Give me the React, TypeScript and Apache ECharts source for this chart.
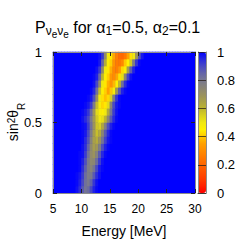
import React, { useEffect, useRef } from "react";
import * as echarts from "echarts";

// Axis ticks
const energyTicks = [5, 10, 15, 20, 25, 30];
const mixingTicks = [0, 0.5, 1];
const colorTicks = [0, 0.2, 0.4, 0.6, 0.8, 1];

// Grid of the map: 0.5 MeV bins from 5 to 30 MeV, 0.05 bins of sin^2(theta_R) from 0 to 1
const energyBinCount = 50;
const mixingBinCount = 20;

// Values. Each row (sin^2 bin, bottom to top) lists the
// survival probability of the bins where it differs from the blue background (1),
// starting at energy bin rowStart[j].
const rowStart = [8, 8, 8, 9, 9, 9, 10, 10, 10, 10, 10, 10, 11, 12, 13, 14, 14, 15, 16, 16];
const rowValues = [
  [0.98, 0.94, 0.87, 0.81, 0.83, 0.9, 0.96, 0.99],
  [0.99, 0.96, 0.9, 0.82, 0.79, 0.85, 0.93, 0.98],
  [0.99, 0.97, 0.92, 0.83, 0.78, 0.79, 0.87, 0.94, 0.98],
  [0.99, 0.94, 0.86, 0.78, 0.75, 0.81, 0.9, 0.97, 0.99],
  [0.99, 0.96, 0.89, 0.79, 0.73, 0.74, 0.83, 0.92, 0.98],
  [0.99, 0.98, 0.92, 0.82, 0.72, 0.69, 0.76, 0.87, 0.95, 0.99],
  [0.98, 0.94, 0.85, 0.73, 0.66, 0.68, 0.78, 0.89, 0.96, 0.99],
  [0.99, 0.95, 0.88, 0.76, 0.65, 0.62, 0.69, 0.81, 0.91, 0.97, 0.99],
  [0.99, 0.97, 0.9, 0.79, 0.66, 0.58, 0.62, 0.74, 0.87, 0.95, 0.99],
  [0.99, 0.98, 0.92, 0.82, 0.69, 0.57, 0.55, 0.63, 0.77, 0.89, 0.96, 0.99],
  [0.98, 0.95, 0.9, 0.8, 0.67, 0.56, 0.5, 0.52, 0.6, 0.74, 0.87, 0.95, 0.99],
  [0.99, 0.97, 0.93, 0.84, 0.68, 0.53, 0.47, 0.46, 0.5, 0.63, 0.8, 0.92, 0.98],
  [0.99, 0.97, 0.92, 0.78, 0.58, 0.47, 0.42, 0.44, 0.53, 0.74, 0.9, 0.97, 0.99],
  [0.99, 0.97, 0.89, 0.7, 0.5, 0.43, 0.39, 0.42, 0.55, 0.78, 0.93, 0.99],
  [0.99, 0.95, 0.82, 0.58, 0.46, 0.41, 0.35, 0.4, 0.48, 0.68, 0.87, 0.96, 0.99],
  [0.98, 0.9, 0.72, 0.5, 0.44, 0.37, 0.32, 0.38, 0.46, 0.6, 0.82, 0.94, 0.99],
  [0.99, 0.96, 0.84, 0.6, 0.46, 0.41, 0.33, 0.3, 0.36, 0.43, 0.52, 0.74, 0.91, 0.98],
  [0.98, 0.92, 0.73, 0.5, 0.44, 0.37, 0.29, 0.27, 0.33, 0.42, 0.47, 0.66, 0.86, 0.96],
  [0.97, 0.85, 0.62, 0.46, 0.41, 0.32, 0.26, 0.25, 0.29, 0.4, 0.45, 0.56, 0.78, 0.93, 0.99],
  [0.98, 0.92, 0.72, 0.5, 0.44, 0.36, 0.27, 0.22, 0.21, 0.25, 0.35, 0.43, 0.5, 0.68, 0.88, 0.97],
];

// Colour palette, evenly spaced from 0 to 1
const palette = [
  "#ff0000", "#ff2200", "#ff3c00", "#ff5000", "#ff6400", "#ff7800", "#ff8c00",
  "#ffa000", "#ffc800", "#fff000", "#f0e810", "#d8d020", "#bcb430", "#a8a048",
  "#989060", "#888478", "#787890", "#6464a8", "#4848c4", "#2828e0", "#0000ff",
];

const FONT = "Liberation Sans, Arial, Helvetica, sans-serif";

export default function App() {
  const ref = useRef<HTMLDivElement>(null);
  useEffect(() => {
    const chart = echarts.init(ref.current!, null, { renderer: "svg" });
    const data: number[][] = [];
    for (let j = 0; j < mixingBinCount; j++) {
      for (let i = 0; i < energyBinCount; i++) {
        const k = i - rowStart[j];
        const v = k >= 0 && k < rowValues[j].length ? rowValues[j][k] : 1;
        data.push([i, j, v]);
      }
    }
    const xCats = Array.from({ length: energyBinCount }, (_, i) => String(i));
    const yCats = Array.from({ length: mixingBinCount }, (_, i) => String(i));
    const frame = { show: true, lineStyle: { color: "#8c8c8c", width: 1 } };
    const tick = (len: number) => ({ show: true, inside: true, length: len, lineStyle: { color: "#222", width: 1 } });
    const label = { color: "#000", fontSize: 12, fontFamily: FONT };
    const tt = (fontSize: number, height: number) => ({
      fontSize, fontFamily: FONT, fontWeight: "normal", color: "#000",
      lineHeight: 30, height, verticalAlign: "top",
    });

    chart.setOption({
      animation: false,
      backgroundColor: "#fff",
      title: {
        left: 35,
        top: 19,
        padding: 0,
        text: "{a|P}{s|ν}{e|e}{s|ν}{e|e}{a| for α}{s|1}{a|=0.5, α}{s|2}{a|=0.1}",
        textStyle: {
          fontWeight: "normal",
          rich: { a: tt(16, 16), s: tt(12, 24), e: tt(10, 30) },
        },
      },
      graphic: [
        {
          type: "text",
          x: 16,
          y: 122,
          rotation: Math.PI / 2,
          style: {
            text: "{a|sin}{p|2}{a|θ}{b|R}",
            align: "center",
            verticalAlign: "middle",
            rich: {
              a: { fontSize: 14, fontFamily: FONT, fill: "#000", lineHeight: 20, verticalAlign: "top" },
              p: { fontSize: 10, fontFamily: FONT, fill: "#000", lineHeight: 10, verticalAlign: "top" },
              b: { fontSize: 10, fontFamily: FONT, fill: "#000", lineHeight: 10, verticalAlign: "bottom" },
            },
          },
        },
      ],
      grid: [
        { left: 53, top: 52, width: 142, height: 141, show: true, backgroundColor: "#0000ff", borderWidth: 0, containLabel: false, outerBoundsMode: "none" },
        { left: 198, top: 52, width: 8, height: 141, containLabel: false, outerBoundsMode: "none" },
      ],
      xAxis: [
        { type: "category", gridIndex: 0, data: xCats, show: false },
        {
          type: "value", gridIndex: 0, position: "bottom",
          min: energyTicks[0], max: energyTicks[energyTicks.length - 1], interval: energyTicks[1] - energyTicks[0],
          axisLine: frame, axisTick: tick(4), splitLine: { show: false },
          axisLabel: { ...label, margin: 10 },
          name: "Energy [MeV]", nameLocation: "middle", nameGap: 31,
          nameTextStyle: { color: "#000", fontSize: 14, fontFamily: FONT },
          z: 10,
        },
        {
          type: "value", gridIndex: 0, position: "top",
          min: energyTicks[0], max: energyTicks[energyTicks.length - 1], interval: energyTicks[1] - energyTicks[0],
          axisLine: frame, axisTick: tick(4), splitLine: { show: false }, axisLabel: { show: false }, z: 10,
        },
        { type: "category", gridIndex: 1, data: ["c"], position: "bottom", axisLine: frame, axisTick: { show: false }, axisLabel: { show: false }, z: 10 },
        { type: "category", gridIndex: 1, data: ["c"], position: "top", axisLine: frame, axisTick: { show: false }, axisLabel: { show: false }, z: 10 },
      ],
      yAxis: [
        { type: "category", gridIndex: 0, data: yCats, show: false },
        {
          type: "value", gridIndex: 0, position: "left",
          min: mixingTicks[0], max: mixingTicks[mixingTicks.length - 1], interval: mixingTicks[1] - mixingTicks[0],
          axisLine: frame, axisTick: tick(4), splitLine: { show: false },
          axisLabel: { ...label, fontSize: 13, margin: 11 },
          z: 10,
        },
        {
          type: "value", gridIndex: 0, position: "right",
          min: mixingTicks[0], max: mixingTicks[mixingTicks.length - 1], interval: mixingTicks[1] - mixingTicks[0],
          axisLine: frame, axisTick: tick(4), splitLine: { show: false }, axisLabel: { show: false }, z: 10,
        },
        {
          type: "value", gridIndex: 1, position: "right",
          min: colorTicks[0], max: colorTicks[colorTicks.length - 1], interval: colorTicks[1] - colorTicks[0],
          axisLine: frame,
          axisTick: { show: true, inside: true, length: 8, lineStyle: { color: "rgba(40,30,20,0.75)", width: 1 } },
          splitLine: { show: false },
          axisLabel: { ...label, fontSize: 13, margin: 11 },
          z: 10,
        },
        {
          type: "value", gridIndex: 1, position: "left", min: 0, max: 1,
          axisLine: frame, axisTick: { show: false }, axisLabel: { show: false }, splitLine: { show: false }, z: 10,
        },
      ],
      visualMap: {
        type: "continuous",
        min: 0,
        max: 1,
        seriesIndex: 0,
        orient: "vertical",
        left: 198,
        top: 52,
        itemWidth: 8,
        itemHeight: 141,
        padding: 0,
        calculable: false,
        hoverLink: false,
        inRange: { color: palette },
      },
      series: [
        {
          type: "heatmap",
          xAxisIndex: 0,
          yAxisIndex: 0,
          data,
          progressive: 0,
          itemStyle: { borderWidth: 0 },
          emphasis: { disabled: true },
        },
      ],
    });
    return () => chart.dispose();
  }, []);
  return <div ref={ref} style={{ position: "fixed", left: 0, top: 0, width: 249, height: 245 }} />;
}
